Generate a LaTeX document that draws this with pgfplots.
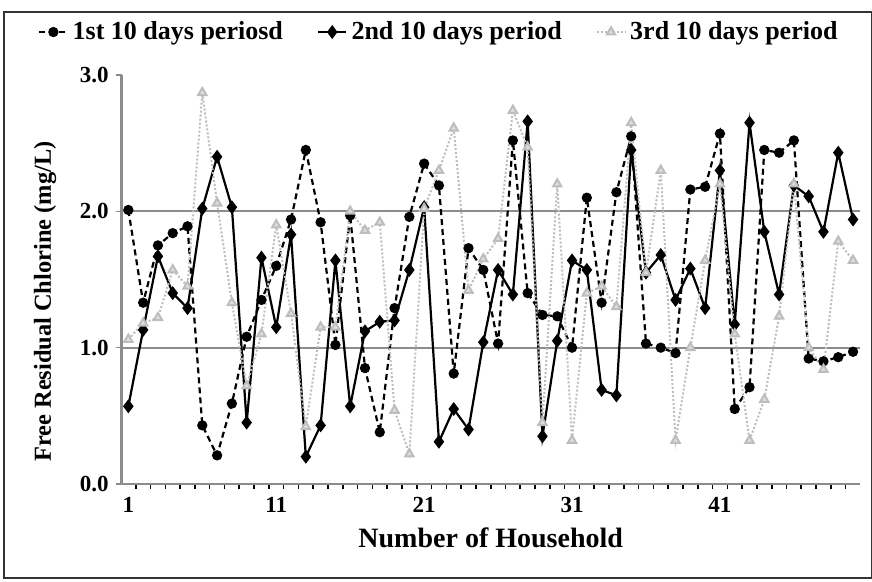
\documentclass[border=0pt]{standalone}
\usepackage{pgfplots}
\usepackage{pgfplotstable}
\usepackage{fontspec}
\pgfplotsset{compat=1.18}
\setmainfont{Liberation Serif}
\definecolor{gridgray}{HTML}{8C8C8C}
\definecolor{lightser}{HTML}{BDBDBD}

% free residual chlorine, mg/L, per household
\pgfplotstableread{
h a b c
1 2.01 0.57 1.06
2 1.33 1.13 1.18
3 1.75 1.67 1.22
4 1.84 1.40 1.57
5 1.89 1.29 1.45
6 0.43 2.02 2.87
7 0.21 2.40 2.06
8 0.59 2.03 1.33
9 1.08 0.45 0.72
10 1.35 1.66 1.10
11 1.60 1.15 1.90
12 1.94 1.83 1.25
13 2.45 0.20 0.42
14 1.92 0.43 1.15
15 1.02 1.64 1.15
16 1.97 0.57 2.00
17 0.85 1.12 1.86
18 0.38 1.19 1.92
19 1.29 1.20 0.54
20 1.96 1.57 0.22
21 2.35 2.03 2.02
22 2.19 0.31 2.30
23 0.81 0.55 2.61
24 1.73 0.40 1.42
25 1.57 1.04 1.65
26 1.03 1.57 1.80
27 2.52 1.39 2.74
28 1.40 2.66 2.47
29 1.24 0.35 0.45
30 1.23 1.05 2.20
31 1.00 1.64 0.32
32 2.10 1.57 1.40
33 1.33 0.69 1.45
34 2.14 0.65 1.30
35 2.55 2.45 2.65
36 1.03 1.55 1.55
37 1.00 1.68 2.30
38 0.96 1.35 0.32
39 2.16 1.58 1.00
40 2.18 1.29 1.64
41 2.57 2.30 2.20
42 0.55 1.17 1.10
43 0.71 2.65 0.32
44 2.45 1.85 0.62
45 2.43 1.39 1.23
46 2.52 2.19 2.20
47 0.92 2.11 1.00
48 0.90 1.85 0.84
49 0.93 2.43 1.78
50 0.97 1.94 1.64
}\chlorine

\begin{document}
\begin{tikzpicture}
\useasboundingbox (-60.85pt,-49pt) rectangle (375.15pt,242pt);
\draw[black!80, line width=0.6pt] (-58.85pt,-47pt) rectangle (375pt,236pt);
\begin{axis}[
    scale only axis,
    width=369pt, height=204.5pt,
    xmin=0.55, xmax=50.45,
    ymin=0, ymax=3,
    axis x line*=bottom, axis y line*=left,
    axis line style={gridgray, line width=1.3pt},
    xtick={1,11,21,31,41},
    minor xtick={0.5,1.5,...,50.5},
    major x tick style={draw=none},
    minor x tick style={black, line width=0.8pt},
    minor tick length=2.5pt,
    ytick={0,1,2,3},
    major y tick style={gridgray, line width=0.8pt},
    major tick length=3pt,
    tick align=outside,
    extra y ticks={1,2},
    extra y tick labels={},
    extra y tick style={ymajorgrids=true, major tick length=0pt},
    grid style={gridgray, line width=0.9pt},
    yticklabel style={/pgf/number format/.cd, fixed, fixed zerofill, precision=1},
    /pgf/number format/assume math mode=true,
    ticklabel style={font=\fontsize{11.5}{13}\selectfont\bfseries},
    xlabel={Number of Household},
    ylabel={Free Residual Chlorine (mg/L)},
    xlabel style={font=\fontsize{14}{16}\selectfont\bfseries, yshift=-1pt},
    ylabel style={font=\fontsize{12.2}{14}\selectfont\bfseries,
        at={(ticklabel cs:0.446)}, yshift=2pt},
    legend style={at={(0.431,1.105)}, anchor=center, draw=none, fill=none,
        legend columns=3, font=\fontsize{13}{15}\selectfont\bfseries,
        /tikz/every even column/.append style={column sep=15pt}},
    legend image code/.code={
        \draw[mark repeat=2, mark phase=2] plot coordinates {(0cm,0cm) (0.25cm,0cm) (0.5cm,0cm)};},
    clip=false,
]
\addplot[black, line width=1.1pt, densely dashed, mark=*, mark size=2pt,
    mark options={solid}] table[x=h, y=a] {\chlorine};
\addplot[black, line width=1.1pt, mark=diamond*, mark size=2.6pt]
    table[x=h, y=b] {\chlorine};
\addplot[lightser, line width=1pt, densely dotted, mark=triangle*, mark size=2.4pt,
    mark options={solid, fill=lightser!50}] table[x=h, y=c] {\chlorine};
\legend{1st 10 days periosd, 2nd 10 days period, 3rd 10 days period}
\end{axis}
\end{tikzpicture}
\end{document}
